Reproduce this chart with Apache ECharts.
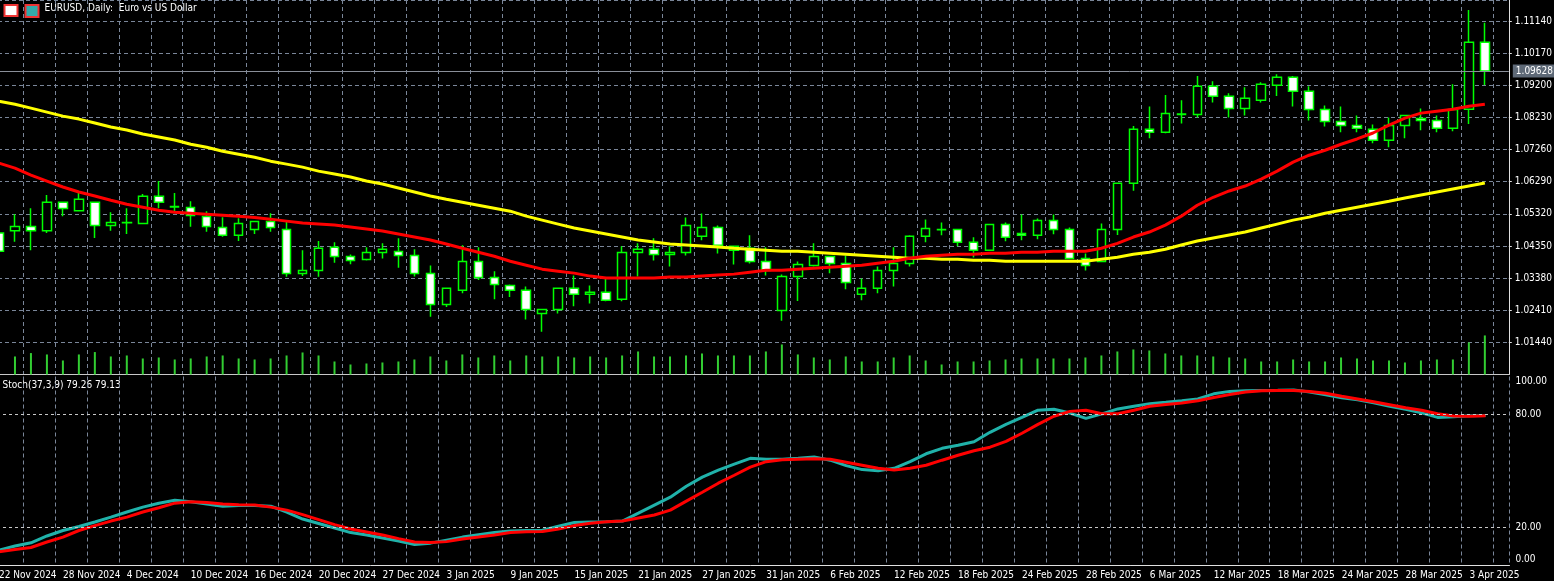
<!DOCTYPE html>
<html><head><meta charset="utf-8">
<script src="https://cdn.jsdelivr.net/npm/echarts@6/dist/echarts.min.js"></script>
<style>html,body{margin:0;padding:0;background:#000;overflow:hidden;}#c{position:absolute;left:-9.5px;top:0;width:1563.5px;height:581px;}</style>
</head><body><div id="c"></div>
<script>
const dates=["22 Nov 2024","25 Nov 2024","26 Nov 2024","27 Nov 2024","28 Nov 2024","29 Nov 2024",
"2 Dec 2024","3 Dec 2024","4 Dec 2024","5 Dec 2024","6 Dec 2024","9 Dec 2024","10 Dec 2024","11 Dec 2024","12 Dec 2024","13 Dec 2024","16 Dec 2024","17 Dec 2024","18 Dec 2024","19 Dec 2024","20 Dec 2024","23 Dec 2024","24 Dec 2024","26 Dec 2024","27 Dec 2024","30 Dec 2024","31 Dec 2024",
"2 Jan 2025","3 Jan 2025","6 Jan 2025","7 Jan 2025","8 Jan 2025","9 Jan 2025","10 Jan 2025","13 Jan 2025","14 Jan 2025","15 Jan 2025","16 Jan 2025","17 Jan 2025","20 Jan 2025","21 Jan 2025","22 Jan 2025","23 Jan 2025","24 Jan 2025","27 Jan 2025","28 Jan 2025","29 Jan 2025","30 Jan 2025","31 Jan 2025",
"3 Feb 2025","4 Feb 2025","5 Feb 2025","6 Feb 2025","7 Feb 2025","10 Feb 2025","11 Feb 2025","12 Feb 2025","13 Feb 2025","14 Feb 2025","17 Feb 2025","18 Feb 2025","19 Feb 2025","20 Feb 2025","21 Feb 2025","24 Feb 2025","25 Feb 2025","26 Feb 2025","27 Feb 2025","28 Feb 2025",
"3 Mar 2025","4 Mar 2025","5 Mar 2025","6 Mar 2025","7 Mar 2025","10 Mar 2025","11 Mar 2025","12 Mar 2025","13 Mar 2025","14 Mar 2025","17 Mar 2025","18 Mar 2025","19 Mar 2025","20 Mar 2025","21 Mar 2025","24 Mar 2025","25 Mar 2025","26 Mar 2025","27 Mar 2025","28 Mar 2025","31 Mar 2025",
"1 Apr 2025","2 Apr 2025","3 Apr 2025","4 Apr 2025",""];
const opens=[1.0474,1.0481,1.0494,1.0481,1.0567,1.0541,1.0567,1.0497,1.0506,1.0503,
1.0585,1.0554,1.0551,1.0524,1.0491,1.0467,1.0485,1.0509,1.0485,1.0352,
1.0361,1.0431,1.0403,1.0394,1.0415,1.0418,1.0406,1.0352,1.0258,1.0301,
1.0388,1.0340,1.0316,1.0301,1.0231,1.0243,1.0307,1.0289,1.0295,1.0274,
1.0415,1.0425,1.0409,1.0415,1.0464,1.0491,1.0422,1.0428,1.0388,1.0240,
1.0343,1.0376,1.0403,1.0382,1.0289,1.0307,1.0361,1.0382,1.0464,1.0485,
1.0485,1.0446,1.0422,1.0500,1.0473,1.0467,1.0512,1.0485,1.0397,1.0388,
1.0485,1.0624,1.0787,1.0778,1.0832,1.0832,1.0917,1.0887,1.0850,1.0875,
1.0920,1.0944,1.0902,1.0847,1.0811,1.0799,1.0787,1.0754,1.0799,1.0820,
1.0814,1.0790,1.0848,1.1050];
const closes=[1.0419,1.0494,1.0481,1.0567,1.0548,1.0576,1.0497,1.0506,1.0505,1.0585,
1.0567,1.0553,1.0527,1.0494,1.0467,1.0503,1.0509,1.0491,1.0352,1.0361,
1.0428,1.0403,1.0391,1.0415,1.0425,1.0406,1.0352,1.0258,1.0307,1.0388,
1.0340,1.0319,1.0301,1.0243,1.0243,1.0307,1.0289,1.0295,1.0271,1.0415,
1.0425,1.0409,1.0415,1.0497,1.0491,1.0437,1.0434,1.0388,1.0361,1.0343,
1.0379,1.0403,1.0382,1.0325,1.0307,1.0361,1.0382,1.0464,1.0488,1.0484,
1.0446,1.0422,1.0500,1.0461,1.0467,1.0512,1.0485,1.0397,1.0376,1.0485,
1.0624,1.0787,1.0778,1.0835,1.0833,1.0917,1.0887,1.0850,1.0881,1.0923,
1.0944,1.0902,1.0847,1.0811,1.0799,1.0790,1.0754,1.0799,1.0829,1.0814,
1.0790,1.0847,1.1050,1.09628];
const highs=[1.0489,1.0531,1.0549,1.0589,1.0568,1.0598,1.0568,1.0537,1.0549,1.0592,
1.0631,1.0595,1.0570,1.0540,1.0522,1.0519,1.0510,1.0534,1.0513,1.0422,
1.0450,1.0446,1.0409,1.0431,1.0443,1.0458,1.0425,1.0376,1.0308,1.0437,
1.0431,1.0359,1.0319,1.0313,1.0244,1.0310,1.0346,1.0316,1.0337,1.0434,
1.0443,1.0458,1.0434,1.0521,1.0533,1.0497,1.0435,1.0467,1.0431,1.0349,
1.0388,1.0443,1.0404,1.0406,1.0337,1.0373,1.0431,1.0467,1.0515,1.0506,
1.0486,1.0461,1.0501,1.0506,1.0530,1.0518,1.0530,1.0491,1.0412,1.0503,
1.0625,1.0797,1.0856,1.0891,1.0875,1.0948,1.0932,1.0896,1.0914,1.0929,
1.0953,1.0948,1.0917,1.0859,1.0856,1.0829,1.0802,1.0823,1.0830,1.0850,
1.0829,1.0923,1.1147,1.1109];
const lows=[1.0404,1.0448,1.0422,1.0474,1.0525,1.0540,1.0459,1.0481,1.0471,1.0501,
1.0549,1.0538,1.0493,1.0478,1.0463,1.0450,1.0471,1.0478,1.0342,1.0344,
1.0342,1.0384,1.0380,1.0391,1.0397,1.0369,1.0343,1.0221,1.0251,1.0292,
1.0332,1.0274,1.0281,1.0213,1.0176,1.0231,1.0253,1.0261,1.0268,1.0268,
1.0343,1.0391,1.0373,1.0406,1.0452,1.0412,1.0379,1.0382,1.0346,1.0209,
1.0269,1.0373,1.0353,1.0304,1.0271,1.0292,1.0313,1.0373,1.0446,1.0467,
1.0434,1.0400,1.0421,1.0449,1.0452,1.0455,1.0470,1.0396,1.0361,1.0387,
1.0468,1.0602,1.0760,1.0775,1.0805,1.0823,1.0868,1.0823,1.0829,1.0868,
1.0888,1.0856,1.0814,1.0796,1.0778,1.0778,1.0745,1.0733,1.0760,1.0784,
1.0778,1.0781,1.0803,1.0921];
const volumes=[100,90,107,100,70,100,112,90,95,80,85,75,80,90,95,80,75,80,95,110,
95,65,50,55,60,65,75,90,70,100,85,95,70,95,90,90,85,90,85,95,
115,90,90,95,105,95,95,95,115,150,100,85,75,90,65,65,85,95,70,50,
65,65,70,75,80,80,80,80,85,95,115,125,120,105,95,95,90,85,80,65,
65,75,65,65,85,80,70,70,60,70,75,75,160,195];
const maFast=[1.0685,1.0670,1.0649,1.0631,1.0613,1.0598,1.0586,1.0573,1.0561,1.0552,
1.0543,1.0537,1.0534,1.0531,1.0528,1.0525,1.0521,1.0516,1.0510,1.0504,
1.0501,1.0498,1.0492,1.0486,1.0480,1.0471,1.0462,1.0453,1.0441,1.0428,
1.0416,1.0404,1.0389,1.0377,1.0365,1.0359,1.0353,1.0344,1.0338,1.0338,
1.0338,1.0338,1.0341,1.0341,1.0344,1.0347,1.0350,1.0356,1.0362,1.0362,
1.0365,1.0368,1.0371,1.0374,1.0377,1.0383,1.0389,1.0398,1.0404,1.0407,
1.0410,1.0410,1.0413,1.0413,1.0416,1.0416,1.0419,1.0419,1.0419,1.0428,
1.0443,1.0462,1.0477,1.0498,1.0525,1.0558,1.0582,1.0601,1.0616,1.0637,
1.0661,1.0688,1.0709,1.0724,1.0742,1.0758,1.0776,1.0800,1.0821,1.0836,
1.0842,1.0848,1.0857,1.0863];
const maSlow=[1.0872,1.0863,1.0851,1.0839,1.0827,1.0818,1.0806,1.0794,1.0785,1.0773,
1.0764,1.0755,1.0742,1.0733,1.0721,1.0712,1.0703,1.0691,1.0682,1.0673,
1.0661,1.0652,1.0643,1.0631,1.0622,1.0610,1.0598,1.0586,1.0576,1.0567,
1.0558,1.0549,1.0540,1.0525,1.0513,1.0501,1.0489,1.0480,1.0471,1.0462,
1.0453,1.0447,1.0441,1.0438,1.0435,1.0432,1.0428,1.0425,1.0422,1.0419,
1.0419,1.0416,1.0413,1.0410,1.0407,1.0404,1.0401,1.0398,1.0398,1.0395,
1.0395,1.0392,1.0392,1.0389,1.0389,1.0389,1.0389,1.0389,1.0389,1.0395,
1.0401,1.0410,1.0416,1.0425,1.0438,1.0450,1.0459,1.0468,1.0477,1.0489,
1.0501,1.0513,1.0522,1.0534,1.0543,1.0552,1.0561,1.0570,1.0580,1.0589,
1.0598,1.0607,1.0616,1.0625];
const stochK=[7.9,10.1,11.8,15.4,18.3,20.4,22.8,25.4,28.1,30.7,
32.8,34.3,33.6,32.3,31.2,31.5,31.6,31.2,28.1,24.4,
22.0,19.6,17.2,15.9,14.3,12.7,10.9,11.6,13.2,14.8,
16.1,17.2,18.0,18.3,18.5,20.6,22.5,22.8,23.0,23.3,
27.5,31.8,36.0,41.8,46.6,50.3,53.5,56.6,56.1,56.1,
56.6,57.3,55.6,52.7,50.6,50.0,51.3,54.8,59.0,61.9,
63.5,65.4,70.4,74.6,78.3,82.1,82.6,80.6,77.8,80.2,
82.8,84.2,85.6,86.3,87.1,88.1,90.8,92.1,92.4,92.6,
92.7,92.9,91.8,90.3,88.7,87.6,86.0,84.2,82.6,80.7,
78.3,78.6,79.2,79.26];
const stochD=[7.0,8.2,9.3,12.2,14.8,18.3,20.9,23.3,25.4,28.1,
30.4,32.8,33.6,33.1,32.3,31.9,31.8,30.7,29.1,26.7,
24.1,21.4,19.1,17.5,15.9,14.0,12.2,11.9,12.4,13.8,
14.8,15.9,17.2,17.7,17.8,19.1,20.9,22.2,23.0,23.3,
24.9,26.5,29.1,33.9,38.6,43.4,47.6,51.9,54.8,55.8,
56.1,56.3,56.1,54.5,52.9,51.3,50.4,51.3,52.9,55.6,
58.2,60.6,62.5,65.6,69.9,74.6,78.9,81.5,82.1,80.2,
80.2,82.1,84.2,85.2,86.0,87.1,88.9,90.5,91.8,92.5,
92.6,92.6,92.1,91.1,89.5,88.1,86.6,85.0,83.4,82.1,
80.2,79.1,78.9,79.13];
const priceTickStart=1.0047, priceTickStep=0.0097, priceMax=1.11775, lastPrice=1.09628;
const stochLevels=[20,80];

const candles=opens.map((o,i)=>[o,closes[i],lows[i],highs[i]]);
const font="'DejaVu Sans Condensed','DejaVu Sans',sans-serif";
const gridCol='#7a8699';
const chart=echarts.init(document.getElementById('c'));
const W=1518.5;
chart.setOption({
 backgroundColor:'#000',animation:false,
 textStyle:{fontFamily:font},
 grid:[{left:0,width:W,top:0,height:374.5},{left:0,width:W,top:376.5,height:188.5}],
 xAxis:[
  {type:'category',gridIndex:0,data:dates,boundaryGap:true,axisLabel:{show:false},axisTick:{show:false},
   axisLine:{show:true,lineStyle:{color:'#c8c8c8',width:1}},splitLine:{show:false}},
  {type:'value',gridIndex:0,min:-0.5,max:dates.length-0.5,interval:2,axisLabel:{show:false},axisTick:{show:false},axisLine:{show:false},
   splitLine:{show:true,lineStyle:{color:gridCol,type:[4,3],width:1}}},
  {type:'category',gridIndex:1,data:dates,boundaryGap:true,
   axisLabel:{interval:3,align:'left',color:'#fff',fontSize:10,margin:5,fontFamily:font,showMinLabel:true},
   axisTick:{show:false},axisLine:{show:true,lineStyle:{color:'#e0e0e0',width:1}},splitLine:{show:false}},
  {type:'value',gridIndex:1,min:-0.5,max:dates.length-0.5,interval:2,axisLabel:{show:false},axisTick:{show:false},axisLine:{show:false},
   splitLine:{show:true,lineStyle:{color:gridCol,type:[4,3],width:1}}}
 ],
 yAxis:[
  {type:'value',gridIndex:0,min:priceTickStart,max:priceMax,show:false,splitLine:{show:false}},
  {type:'value',gridIndex:0,position:'right',min:0,max:(priceMax-priceTickStart)/priceTickStep,interval:1,
   axisLabel:{showMinLabel:false,showMaxLabel:false,color:'#fff',fontSize:10,margin:6,fontFamily:font,
     formatter:v=>(priceTickStart+v*priceTickStep).toFixed(5)},
   axisTick:{show:true,length:3,lineStyle:{color:'#e0e0e0'}},
   axisLine:{show:true,lineStyle:{color:'#e0e0e0'}},
   splitLine:{show:true,lineStyle:{color:gridCol,type:[4,3],width:1}}},
  {type:'value',gridIndex:0,min:0,max:1870,show:false,splitLine:{show:false}},
  {type:'value',gridIndex:1,position:'right',min:0,max:100,interval:20,
   axisLabel:{color:'#fff',fontSize:10,margin:6,fontFamily:font,
     formatter:v=>v===100?'{t|100.00}':v===0?'{b|0.00}':(v===20||v===80)?v.toFixed(2):'',
     rich:{t:{padding:[9,0,0,0],color:'#fff',fontSize:10,fontFamily:font},b:{padding:[0,0,12,0],color:'#fff',fontSize:10,fontFamily:font}}},
   axisTick:{show:false},
   axisLine:{show:true,lineStyle:{color:'#e0e0e0'}},splitLine:{show:false}}
 ],
 series:[
  {type:'bar',xAxisIndex:0,yAxisIndex:2,data:volumes,barWidth:2,itemStyle:{color:'#32cd32'},silent:true},
  {type:'candlestick',xAxisIndex:0,yAxisIndex:0,data:candles,barWidth:9,
   itemStyle:{color:'#000',color0:'#fff',borderColor:'#00ff00',borderColor0:'#00ff00',borderWidth:1.5}},
  {type:'line',xAxisIndex:0,yAxisIndex:0,data:maSlow,symbol:'none',lineStyle:{color:'#ffff00',width:3},z:3},
  {type:'line',xAxisIndex:0,yAxisIndex:0,data:maFast,symbol:'none',lineStyle:{color:'#ff0000',width:3},z:3,
   markLine:{silent:true,symbol:'none',precision:5,data:[{yAxis:lastPrice}],
    lineStyle:{color:'#8a8f99',type:'solid',width:1},
    label:{position:'end',formatter:lastPrice.toFixed(5),color:'#fff',backgroundColor:'#5e6977',padding:[2,3,1,3],fontSize:10,fontFamily:font,distance:4}}},
  {type:'line',xAxisIndex:2,yAxisIndex:3,data:stochK,symbol:'none',lineStyle:{color:'#20b2aa',width:3},
   markLine:{silent:true,symbol:'none',label:{show:false},data:stochLevels.map(v=>({yAxis:v})),lineStyle:{color:'#c8c8c8',type:[3,3],width:1}}},
  {type:'line',xAxisIndex:2,yAxisIndex:3,data:stochD,symbol:'none',lineStyle:{color:'#ff0000',width:3}}
 ],
 graphic:[
  {type:'rect',left:12.5,top:4,shape:{width:13,height:11},style:{fill:'#fff',stroke:'#e33',lineWidth:2}},
  {type:'rect',left:33.5,top:4,shape:{width:13,height:12},style:{fill:'#3aa',stroke:'#e33',lineWidth:2}},
  {type:'text',left:53.5,top:3,style:{text:'EURUSD, Daily:  Euro vs US Dollar',fill:'#fff',font:'10px '+font}},
  {type:'text',left:11.5,top:380,style:{text:'Stoch(37,3,9) 79.26 79.13',fill:'#fff',font:'10px '+font}}
 ]
});
</script></body></html>
